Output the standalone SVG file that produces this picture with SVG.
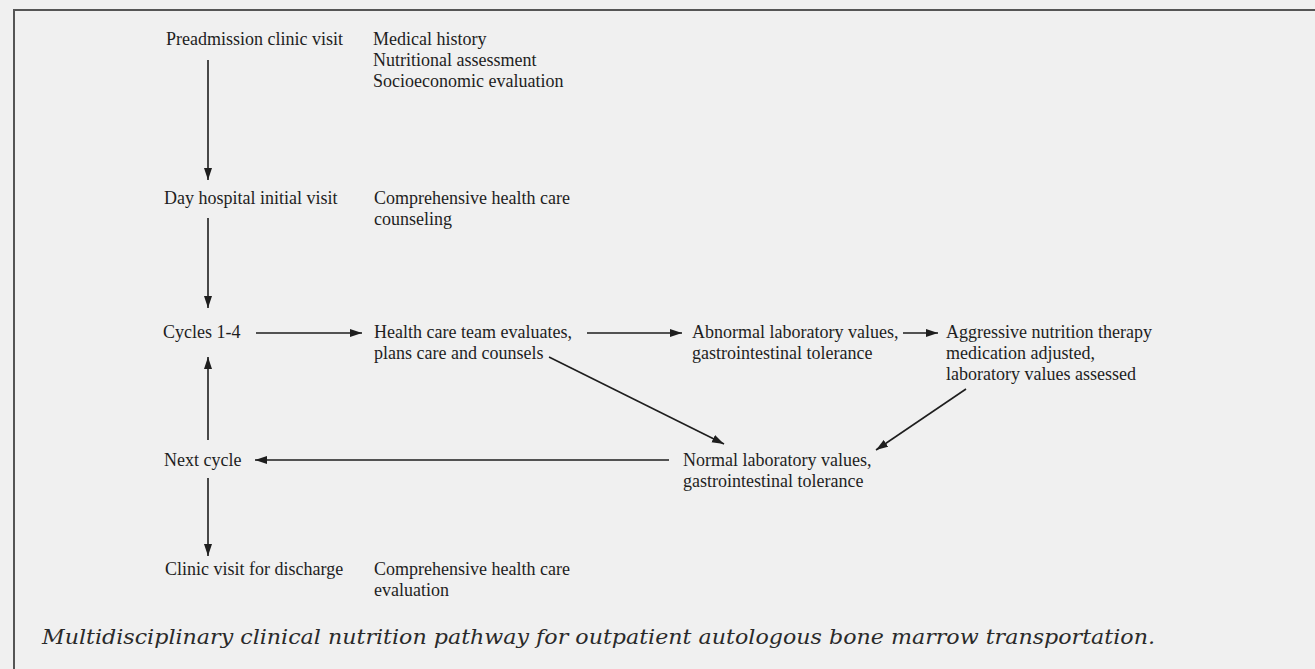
<svg xmlns="http://www.w3.org/2000/svg" width="1315" height="669" viewBox="0 0 1315 669">
<defs>
<marker id="ah" markerWidth="13" markerHeight="9" refX="12" refY="4" orient="auto" markerUnits="userSpaceOnUse">
<path d="M0,0 L12,4 L0,8 z" fill="#1e1e1e"/>
</marker>
<style>
text{font-family:"Liberation Serif","Times New Roman",serif;font-size:18px;fill:#1e1e1e}
.cap{font-family:"DejaVu Serif","Liberation Serif",serif;font-style:italic;font-size:20px;fill:#2a2a2a}
.c{stroke:#1e1e1e;stroke-width:1.6;fill:none;marker-end:url(#ah)}
.frame{stroke:#555;stroke-width:2;fill:none}
</style>
</defs>
<rect x="0" y="0" width="1315" height="669" fill="#f0f0f0"/>
<g id="frame">
<line class="frame" x1="13" y1="10" x2="1315" y2="10"/>
<line class="frame" x1="14" y1="10" x2="14" y2="669"/>
</g>
<g id="preadmission"><text x="166" y="45">Preadmission clinic visit</text></g>
<g id="preadmission-notes"><text x="373" y="45">Medical history</text><text x="373" y="66">Nutritional assessment</text><text x="373" y="87">Socioeconomic evaluation</text></g>
<g id="dayhospital"><text x="164" y="204">Day hospital initial visit</text></g>
<g id="dayhospital-notes"><text x="374" y="204">Comprehensive health care</text><text x="374" y="225">counseling</text></g>
<g id="cycles"><text x="163" y="338">Cycles 1-4</text></g>
<g id="team"><text x="374" y="338">Health care team evaluates,</text><text x="374" y="359">plans care and counsels</text></g>
<g id="abnormal"><text x="692" y="338">Abnormal laboratory values,</text><text x="692" y="359">gastrointestinal tolerance</text></g>
<g id="aggressive"><text x="946" y="338">Aggressive nutrition therapy</text><text x="946" y="359">medication adjusted,</text><text x="946" y="380">laboratory values assessed</text></g>
<g id="normal"><text x="683" y="466">Normal laboratory values,</text><text x="683" y="487">gastrointestinal tolerance</text></g>
<g id="nextcycle"><text x="164" y="466">Next cycle</text></g>
<g id="discharge"><text x="165" y="575">Clinic visit for discharge</text></g>
<g id="discharge-notes"><text x="374" y="575">Comprehensive health care</text><text x="374" y="596">evaluation</text></g>
<g id="connectors">
<line class="c" x1="208" y1="60" x2="208" y2="180"/>
<line class="c" x1="208" y1="218" x2="208" y2="308"/>
<line class="c" x1="256" y1="333" x2="362" y2="333"/>
<line class="c" x1="587" y1="333" x2="682" y2="333"/>
<line class="c" x1="903" y1="333" x2="938" y2="333"/>
<line class="c" x1="549" y1="357" x2="724" y2="444"/>
<line class="c" x1="966" y1="389" x2="876" y2="450"/>
<line class="c" x1="669" y1="460" x2="255" y2="460"/>
<line class="c" x1="208" y1="440" x2="208" y2="357"/>
<line class="c" x1="208" y1="478" x2="208" y2="556"/>
</g>
<g id="caption"><text class="cap" x="42" y="644" textLength="1113" lengthAdjust="spacingAndGlyphs">Multidisciplinary clinical nutrition pathway for outpatient autologous bone marrow transportation.</text></g>
</svg>
